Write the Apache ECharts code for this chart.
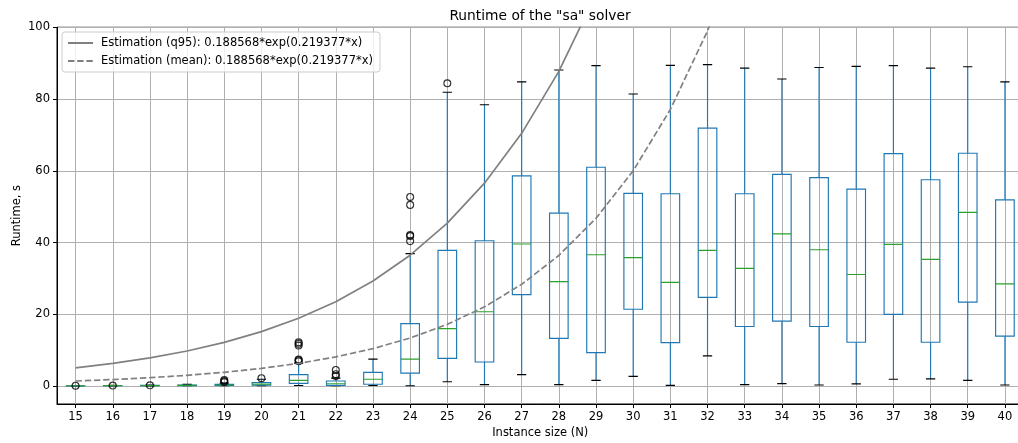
<!DOCTYPE html>
<html>
<head>
<meta charset="utf-8">
<script src="https://cdn.jsdelivr.net/npm/echarts@6/dist/echarts.min.js"></script>
<style>
  html, body { margin: 0; padding: 0; background: #fff; }
  #chart { width: 1018px; height: 443px; }
</style>
</head>
<body>
<div id="chart"></div>
<script>
// Instance sizes (N) shown on the x axis
const sizes = [15, 16, 17, 18, 19, 20, 21, 22, 23, 24, 25, 26, 27, 28, 29, 30, 31, 32, 33, 34, 35, 36, 37, 38, 39, 40];

// Box statistics per instance size, runtime in seconds
const whiskerLow  = [0.04, 0.05, 0.06, 0.08, 0.10, 0.10, 0.15, 0.10, 0.15, 0.1, 1.2, 0.4, 3.2, 0.4, 1.6, 2.7, 0.2, 8.4, 0.4, 0.7, 0.3, 0.6, 1.9, 2.0, 1.6, 0.3];
const quartile1   = [0.06, 0.08, 0.10, 0.13, 0.20, 0.25, 0.75, 0.20, 0.50, 3.6, 7.7, 6.7, 25.5, 13.3, 9.3, 21.4, 12.1, 24.7, 16.6, 18.1, 16.6, 12.2, 20.0, 12.2, 23.4, 13.9];
const median      = [0.08, 0.11, 0.14, 0.20, 0.30, 0.55, 1.60, 0.65, 1.90, 7.5, 16.0, 20.7, 39.6, 29.1, 36.6, 35.8, 28.9, 37.8, 32.8, 42.4, 38.0, 31.1, 39.5, 35.3, 48.4, 28.5];
const quartile3   = [0.10, 0.14, 0.19, 0.28, 0.50, 1.00, 3.20, 1.40, 3.80, 17.4, 37.8, 40.5, 58.6, 48.2, 61.0, 53.7, 53.6, 71.9, 53.6, 59.0, 58.1, 54.9, 64.8, 57.5, 64.9, 51.9];
const whiskerHigh = [0.13, 0.19, 0.27, 0.45, 0.80, 1.90, 6.40, 2.20, 7.50, 36.9, 81.9, 78.4, 84.8, 88.1, 89.3, 81.4, 89.4, 89.6, 88.6, 85.6, 88.8, 89.1, 89.3, 88.6, 89.0, 84.8];

// Outlying runs: [instance size, runtime]
const outliers = [
  [15, 0.1], [16, 0.15], [17, 0.2],
  [19, 1.1], [19, 1.4], [19, 1.7],
  [20, 2.2],
  [21, 6.9], [21, 7.2], [21, 7.4], [21, 11.3], [21, 11.8], [21, 12.2],
  [22, 2.8], [22, 3.3], [22, 4.5],
  [24, 40.4], [24, 41.8], [24, 42.1], [24, 50.5], [24, 52.7],
  [25, 84.4]
];

// Fitted estimation curves, one value per instance size starting at N = 15
const q95Fit  = [5.06, 6.31, 7.85, 9.78, 12.18, 15.17, 18.89, 23.52, 29.29, 36.47, 45.42, 56.56, 70.44, 87.72, 109.2, 136.0];
const meanFit = [1.41, 1.81, 2.33, 2.99, 3.84, 4.93, 6.33, 8.12, 10.43, 13.39, 17.2, 22.08, 28.35, 36.4, 46.75, 60.0, 77.1, 99.0, 127.1];

// Y axis tick labels
const yTicks = [0, 20, 40, 60, 80, 100];

const q95Name  = 'Estimation (q95): 0.188568*exp(0.219377*x)';
const meanName = 'Estimation (mean): 0.188568*exp(0.219377*x)';

const BLUE = '#1f77b4';
const GREEN = '#2ca02c';
const FONT = 'DejaVu Sans';

const boxData = sizes.map((n, i) => [n, whiskerLow[i], quartile1[i], median[i], quartile3[i], whiskerHigh[i]]);
const q95Data = q95Fit.map((v, i) => [sizes[0] + i, v]);
const meanData = meanFit.map((v, i) => [sizes[0] + i, v]);

function renderBox(params, api) {
  const n = api.value(0);
  const lo = api.coord([n, api.value(1)]);
  const b1 = api.coord([n, api.value(2)]);
  const md = api.coord([n, api.value(3)]);
  const b3 = api.coord([n, api.value(4)]);
  const hi = api.coord([n, api.value(5)]);
  const half = api.size([0.5, 0])[0] / 2;
  const cap = half / 2;
  const cx = lo[0];
  const lw = 1.15;
  const blue = { stroke: BLUE, lineWidth: lw, fill: null };
  const black = { stroke: '#000', lineWidth: lw, fill: null };
  return {
    type: 'group',
    children: [
      { type: 'line', shape: { x1: cx, y1: b1[1], x2: cx, y2: lo[1] }, style: blue },
      { type: 'line', shape: { x1: cx, y1: b3[1], x2: cx, y2: hi[1] }, style: blue },
      { type: 'line', shape: { x1: cx - cap, y1: lo[1], x2: cx + cap, y2: lo[1] }, style: black },
      { type: 'line', shape: { x1: cx - cap, y1: hi[1], x2: cx + cap, y2: hi[1] }, style: black },
      { type: 'rect', shape: { x: cx - half, y: b3[1], width: 2 * half, height: b1[1] - b3[1] }, style: blue },
      { type: 'line', shape: { x1: cx - half, y1: md[1], x2: cx + half, y2: md[1] }, style: { stroke: GREEN, lineWidth: lw } }
    ]
  };
}

const chart = echarts.init(document.getElementById('chart'), null, { renderer: 'canvas' });

chart.setOption({
  animation: false,
  backgroundColor: '#fff',
  textStyle: { fontFamily: FONT, color: '#000' },
  title: {
    text: 'Runtime of the "sa" solver',
    left: 535,
    top: 4,
    textAlign: 'center',
    textStyle: { fontFamily: FONT, fontSize: 13.8, fontWeight: 'normal', color: '#000' }
  },
  grid: {
    left: 57, width: 966.5, top: 27.3, bottom: 39,
    outerBoundsMode: 'none',
    containLabel: false,
    show: true, borderColor: '#000', borderWidth: 1, backgroundColor: 'transparent'
  },
  legend: {
    data: [q95Name, meanName],
    orient: 'vertical',
    left: 62, top: 32,
    padding: [5, 7, 5, 5],
    itemGap: 6,
    itemWidth: 25, itemHeight: 12,
    backgroundColor: 'rgba(255,255,255,0.8)',
    borderColor: '#cccccc', borderWidth: 1, borderRadius: 3,
    itemStyle: { color: 'transparent', borderWidth: 0, opacity: 0 },
    textStyle: { fontFamily: FONT, fontSize: 11.5, color: '#000', padding: [0, 0, 0, 3] }
  },
  xAxis: {
    type: 'value',
    min: 14.5, max: 40.5,
    name: 'Instance size (N)',
    nameLocation: 'middle',
    nameGap: 23,
    nameMoveOverlap: false,
    nameTextStyle: { fontFamily: FONT, fontSize: 11.5, color: '#000' },
    axisLine: { show: true, onZero: false, lineStyle: { color: '#000', width: 1 } },
    axisTick: { show: true, customValues: sizes, length: 4, lineStyle: { color: '#000', width: 1 } },
    axisLabel: { customValues: sizes, margin: 7, fontFamily: FONT, fontSize: 11.5, color: '#000' },
    splitLine: { show: true, lineStyle: { color: '#b0b0b0', width: 1 } }
  },
  yAxis: {
    type: 'value',
    min: -5, max: 100,
    name: 'Runtime, s',
    nameLocation: 'middle',
    nameGap: 34,
    nameMoveOverlap: false,
    nameTextStyle: { fontFamily: FONT, fontSize: 11.5, color: '#000' },
    axisLine: { show: true, onZero: false, lineStyle: { color: '#000', width: 1 } },
    axisTick: { show: true, customValues: yTicks, length: 4, lineStyle: { color: '#000', width: 1 } },
    axisLabel: { customValues: yTicks, margin: 7, fontFamily: FONT, fontSize: 11.5, color: '#000' },
    splitLine: { show: true, lineStyle: { color: '#b0b0b0', width: 1 } }
  },
  series: [
    {
      name: 'boxes',
      type: 'custom',
      renderItem: renderBox,
      data: boxData,
      encode: { x: 0, y: [1, 2, 3, 4, 5] },
      clip: true,
      z: 3
    },
    {
      name: 'outliers',
      type: 'scatter',
      data: outliers,
      symbol: 'circle',
      symbolSize: 6.9,
      itemStyle: { color: 'rgba(0,0,0,0)', borderColor: '#000', borderWidth: 1.15 },
      z: 4
    },
    {
      name: q95Name,
      type: 'line',
      data: q95Data,
      showSymbol: false,
      symbol: 'none',
      clip: true,
      lineStyle: { color: '#808080', width: 1.7, type: 'solid' },
      itemStyle: { color: '#808080' },
      z: 5
    },
    {
      name: meanName,
      type: 'line',
      data: meanData,
      showSymbol: false,
      symbol: 'none',
      clip: true,
      lineStyle: { color: '#808080', width: 1.7, type: [6.4, 2.8] },
      itemStyle: { color: '#808080' },
      z: 5
    }
  ]
});
</script>
</body>
</html>
